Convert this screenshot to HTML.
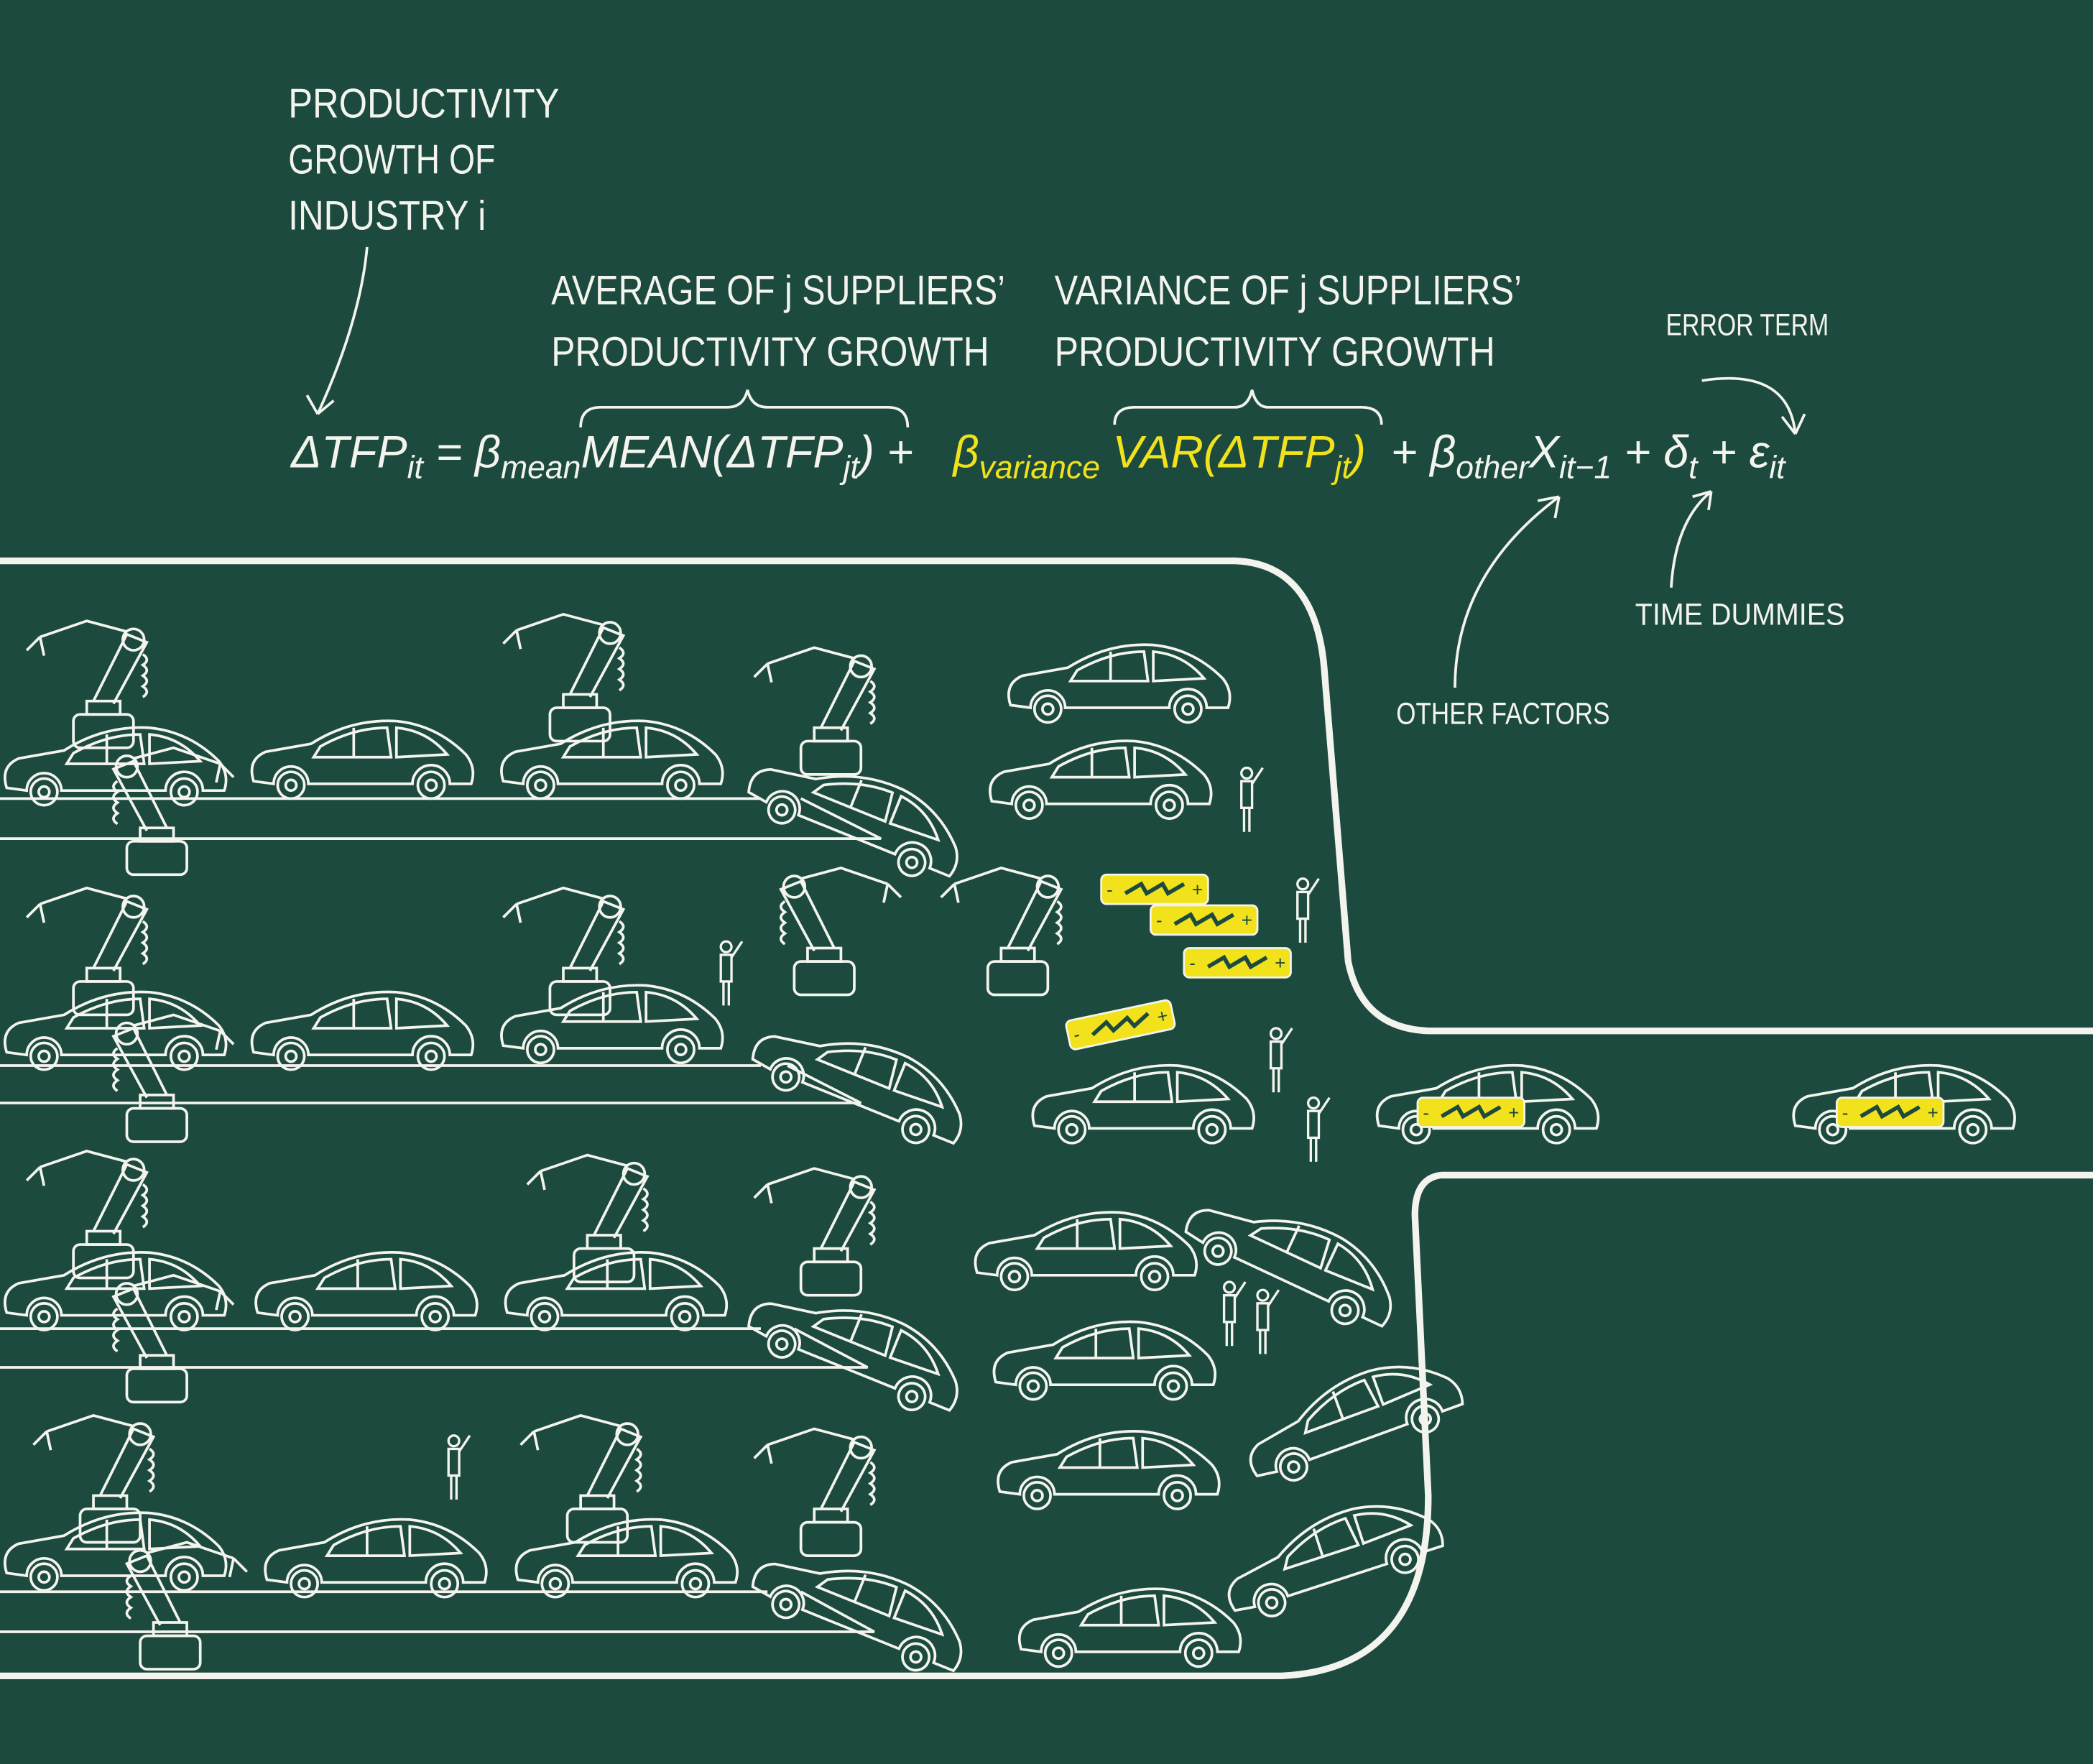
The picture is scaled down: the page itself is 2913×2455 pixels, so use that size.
<!DOCTYPE html>
<html><head><meta charset="utf-8"><style>
html,body{margin:0;padding:0;background:#1c4a3e;}
svg{display:block;}
text{font-family:"Liberation Sans Narrow","Liberation Sans",sans-serif;fill:#f4f4ee;}
.m{font-family:"Liberation Serif",serif;font-style:italic;}
</style></head><body>
<svg width="2913" height="2455" viewBox="0 0 1568 1321" preserveAspectRatio="none" xmlns="http://www.w3.org/2000/svg">
<rect width="1568" height="1321" fill="#1c4a3e"/>
<defs>
<g id="car" fill="none" stroke="#f4f4ee" stroke-width="2">
<path d="M5,50 Q0,34 14,28 L48,22 Q78,3 112,5 Q142,8 164,30 Q172,40 168,52 L152,52 A13,13 0 0 0 124,52 L46,52 A13,13 0 0 0 20,52 Z"/>
<path d="M55,24 Q80,10 105,10 L108,32 L50,32 Z M112,10 Q135,12 150,30 L112,32 Z"/>
<line x1="80" y1="10" x2="80" y2="32"/>
<circle cx="33" cy="53" r="10"/><circle cx="138" cy="53" r="10"/>
<circle cx="33" cy="53" r="4"/><circle cx="138" cy="53" r="4"/>
</g>
<g id="bat">
<rect x="0" y="0" width="80" height="22" rx="4" fill="#f2e21b" stroke="#f4f4ee" stroke-width="1.5"/>
<path d="M18,14 L30,7 L34,14 L46,7 L50,14 L62,7" stroke="#1c4a3e" stroke-width="3" fill="none"/>
<text x="4" y="16" style="fill:#1c4a3e;font-size:14px">-</text><text x="68" y="16" style="fill:#1c4a3e;font-size:14px">+</text>
</g>
<g id="robot" fill="none" stroke="#f4f4ee" stroke-width="2">
<rect x="0" y="70" width="45" height="25" rx="5"/>
<rect x="10" y="60" width="25" height="10"/>
<path d="M15,60 L40,10 L55,16 L30,62"/>
<circle cx="45" cy="14" r="8"/>
<path d="M40,8 L10,0 L-25,12"/><path d="M-25,12 L-35,22 M-25,12 L-22,26"/>
<path d="M52,25 q6,4 0,8 q6,4 0,8 q6,4 0,8 q6,4 0,8"/>
</g>
<g id="person" fill="none" stroke="#f4f4ee" stroke-width="1.8">
<circle cx="6" cy="4" r="4"/><path d="M2,10 L10,10 L10,30 L2,30 Z M4,30 L4,48 M8,30 L8,48 M10,12 L18,0"/>
</g>
</defs>

<!-- outline -->
<path d="M0,420 L925,420 Q985,422 992,500 L1010,720 Q1020,770 1070,772 L1568,772" fill="none" stroke="#f4f4ee" stroke-width="5"/>
<path d="M1568,880 L1080,880 Q1060,882 1060,910 L1070,1120 Q1070,1250 960,1255 L0,1255" fill="none" stroke="#f4f4ee" stroke-width="5"/>

<!-- belts -->
<g fill="none" stroke="#f4f4ee" stroke-width="2">
<path d="M0,598 L570,598 M0,628 L660,628 L600,598"/>
<path d="M0,798 L570,798 M0,826 L645,826 L590,798"/>
<path d="M0,995 L570,995 M0,1024 L650,1024 L595,995"/>
<path d="M0,1192 L575,1192 M0,1222 L655,1222 L600,1192"/>
</g>

<!-- row cars -->
<use href="#car" x="0" y="540"/><use href="#car" x="185" y="535"/><use href="#car" x="372" y="535"/>
<use href="#car" transform="translate(575,545) rotate(22)"/>
<use href="#car" x="752" y="478"/><use href="#car" x="738" y="550"/>
<use href="#car" x="0" y="738"/><use href="#car" x="185" y="738"/><use href="#car" x="372" y="733"/>
<use href="#car" transform="translate(578,745) rotate(22)"/>
<use href="#car" x="770" y="793"/><use href="#car" x="1028" y="793"/><use href="#car" x="1340" y="793"/>
<use href="#car" x="0" y="933"/><use href="#car" x="188" y="933"/><use href="#car" x="375" y="933"/>
<use href="#car" transform="translate(575,945) rotate(22)"/>
<use href="#car" x="727" y="903"/><use href="#car" transform="translate(905,875) rotate(25)"/>
<use href="#car" x="741" y="985"/><use href="#car" transform="translate(920,1060) rotate(-20)"/>
<use href="#car" x="744" y="1067"/><use href="#car" transform="translate(905,1160) rotate(-18)"/>
<use href="#car" x="760" y="1185"/>
<use href="#car" x="0" y="1128"/><use href="#car" x="195" y="1133"/><use href="#car" x="383" y="1133"/>
<use href="#car" transform="translate(578,1140) rotate(22)"/>

<!-- robots -->
<use href="#robot" x="55" y="465"/><use href="#robot" transform="translate(140,560) scale(-1,1)"/><use href="#robot" x="412" y="460"/><use href="#robot" x="600" y="485"/>
<use href="#robot" x="55" y="665"/><use href="#robot" transform="translate(140,760) scale(-1,1)"/><use href="#robot" x="412" y="665"/><use href="#robot" transform="translate(640,650) scale(-1,1)"/><use href="#robot" x="740" y="650"/>
<use href="#robot" x="55" y="862"/><use href="#robot" transform="translate(140,955) scale(-1,1)"/><use href="#robot" x="430" y="865"/><use href="#robot" x="600" y="875"/>
<use href="#robot" x="60" y="1060"/><use href="#robot" transform="translate(150,1155) scale(-1,1)"/><use href="#robot" x="425" y="1060"/><use href="#robot" x="600" y="1070"/>

<!-- people -->
<use href="#person" x="928" y="575"/><use href="#person" x="970" y="658"/><use href="#person" x="538" y="705"/>
<use href="#person" x="950" y="770"/><use href="#person" x="978" y="822"/><use href="#person" x="915" y="960"/><use href="#person" x="940" y="966"/><use href="#person" x="334" y="1075"/>

<!-- batteries -->
<use href="#bat" x="825" y="655"/><use href="#bat" x="862" y="678"/><use href="#bat" x="887" y="710"/>
<use href="#bat" transform="translate(798,765) rotate(-12)"/>
<use href="#bat" x="1062" y="822"/><use href="#bat" x="1376" y="822"/>

<!-- labels -->
<g style="font-size:31px">
<text x="216" y="88" textLength="203" lengthAdjust="spacingAndGlyphs">PRODUCTIVITY</text>
<text x="216" y="130" textLength="155" lengthAdjust="spacingAndGlyphs">GROWTH OF</text>
<text x="216" y="172" textLength="148" lengthAdjust="spacingAndGlyphs">INDUSTRY i</text>
<text x="413" y="228" textLength="340" lengthAdjust="spacingAndGlyphs">AVERAGE OF j SUPPLIERS’</text>
<text x="413" y="274" textLength="328" lengthAdjust="spacingAndGlyphs">PRODUCTIVITY GROWTH</text>
<text x="790" y="228" textLength="350" lengthAdjust="spacingAndGlyphs">VARIANCE OF j SUPPLIERS’</text>
<text x="790" y="274" textLength="330" lengthAdjust="spacingAndGlyphs">PRODUCTIVITY GROWTH</text>
</g>
<g style="font-size:23px">
<text x="1248" y="251" textLength="122" lengthAdjust="spacingAndGlyphs">ERROR TERM</text>
<text x="1225" y="468" textLength="157" lengthAdjust="spacingAndGlyphs">TIME DUMMIES</text>
<text x="1046" y="542" textLength="160" lengthAdjust="spacingAndGlyphs">OTHER FACTORS</text>
</g>

<!-- braces -->
<g fill="none" stroke="#f4f4ee" stroke-width="2">
<path d="M435,320 Q435,305 450,305 L545,305 Q557,305 560,292 Q563,305 575,305 L665,305 Q680,305 680,320"/>
<path d="M835,318 Q835,305 850,305 L925,305 Q935,305 938,292 Q941,305 950,305 L1020,305 Q1035,305 1035,318"/>
<path d="M275,185 Q270,240 238,310 M238,310 L230,296 M238,310 L250,300"/>
<path d="M1275,285 Q1340,275 1345,325 M1345,325 L1335,312 M1345,325 L1352,310"/>
<path d="M1252,440 Q1255,390 1282,368 M1282,368 L1268,372 M1282,368 L1280,382"/>
<path d="M1090,515 Q1090,430 1168,372 M1168,372 L1152,375 M1168,372 L1165,388"/>
</g>

<!-- equation -->
<g class="m" style="font-size:34px">
<text x="218" y="350">ΔTFP<tspan style="font-size:24px" dy="8">it</tspan><tspan dy="-8"> = β</tspan><tspan style="font-size:24px" dy="8">mean</tspan><tspan dy="-8">MEAN(ΔTFP</tspan><tspan style="font-size:24px" dy="8">jt</tspan><tspan dy="-8">) +</tspan></text>
<text x="714" y="350" style="fill:#f2e21b">β<tspan style="font-size:24px" dy="8">variance</tspan><tspan dy="-8"> VAR(ΔTFP</tspan><tspan style="font-size:24px" dy="8">jt</tspan><tspan dy="-8">)</tspan></text>
<text x="1042" y="350">+ β<tspan style="font-size:24px" dy="8">other</tspan><tspan dy="-8">X</tspan><tspan style="font-size:24px" dy="8">it−1</tspan><tspan dy="-8"> + δ</tspan><tspan style="font-size:24px" dy="8">t</tspan><tspan dy="-8"> + ε</tspan><tspan style="font-size:24px" dy="8">it</tspan></text>
</g>
</svg>
</body></html>
